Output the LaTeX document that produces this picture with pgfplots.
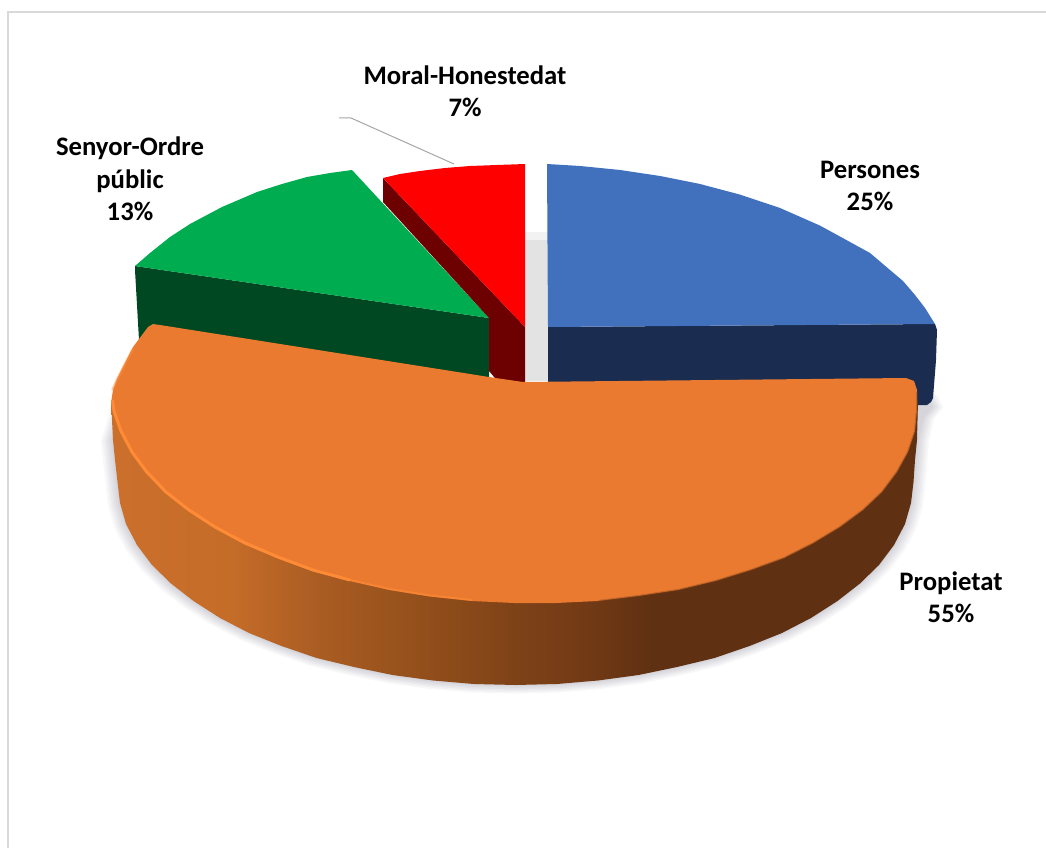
\documentclass[border=0pt]{standalone}
\usepackage{fontspec}
\setmainfont{Carlito}
\usepackage{pgfplots}
\pgfplotsset{compat=1.18}
\usepackage{pgfplotstable}
\definecolor{gridc}{HTML}{D9D9D9}
\definecolor{bluetop}{HTML}{4170BD}
\definecolor{blueside}{HTML}{1A2C50}
\definecolor{greentop}{HTML}{00AC50}
\definecolor{greenside}{HTML}{004821}
\definecolor{redtop}{HTML}{FF0000}
\definecolor{redside}{HTML}{6D0000}
\definecolor{orangetop}{HTML}{E97A30}
\definecolor{orangerim}{HTML}{FF8B36}
\definecolor{sA}{HTML}{CB702C}
\definecolor{sB}{HTML}{C56C29}
\definecolor{sC}{HTML}{A95C22}
\definecolor{sD}{HTML}{934F1B}
\definecolor{sE}{HTML}{7D4117}
\definecolor{sF}{HTML}{723A15}
\definecolor{sG}{HTML}{5F3012}
\pgfdeclarehorizontalshading{sidegrad}{100bp}{color(0bp)=(sA);color(25bp)=(sA);color(32.4bp)=(sB);color(38.1bp)=(sC);color(44.3bp)=(sD);color(50.5bp)=(sE);color(54.5bp)=(sF);color(58.6bp)=(sG);color(75bp)=(sG);color(100bp)=(sG)}
\pgfplotstableread{
x y
125 400
113 440
117.5 482
120 503
126 524
137 545
152 565
171 583.5
193.5 601
220 618
249 633
281.5 646
316.5 658
354 667
392.5 675
433 680.5
474 684
515.5 685
557 684
598 680.5
638.5 675
677 667
714.5 658
749.5 646
782 633
811 618
837.5 601
860 583.5
879 565
894 545
905 524
911 503
913.5 482
917 440
922 418
931 407
925 395
}\shadowtab
\begin{document}
\begin{tikzpicture}
\begin{axis}[
  scale only axis, width=1046pt, height=848pt,
  xmin=0, xmax=1046, ymin=0, ymax=848, y dir=reverse,
  axis lines=none, clip=true,
]
% background and frame
\addplot[fill=white, draw=none] coordinates {(0,0) (1046,0) (1046,848) (0,848)};
\addplot[gridc, line width=1.5pt] coordinates {(8,848) (8,12) (1046,12)};
% soft shadow
\pgfplotsinvokeforeach{1.03,1.025,1.02,1.015,1.01,1.005}{
  \addplot[fill=black!85!blue, fill opacity=0.026, draw=none]
    table[x expr={516+(\thisrow{x}-516)*#1}, y expr={395+(\thisrow{y}-395)*#1}] {\shadowtab};
}
% grey gap between red and blue
\addplot[fill=black!5, draw=none] coordinates {(525,232) (548,232) (548,240) (525,240)};
\addplot[fill=black!11, draw=none] coordinates {(525,240) (548,240) (548,381) (525,381)};
% Persones
\addplot[fill=blueside, draw=none] coordinates {
 (548,327)(935,324)(937,330)(936,360)(933,398)(931,402)(927,405)(880,405)(548,390)};
\addplot[fill=bluetop, draw=none] coordinates {
 (547,164)(580,166)(620,170)(660,176)(700,184)(740,194.6)(780,208)(820,225.6)(850,242)(870,253)(890,270)(903,281)(915,295)(925,308)(935,324)(548,327)};
% Senyor-Ordre public
\addplot[fill=greenside, draw=none] coordinates {
 (135,266)(489,318)(489,382)(150,340)(139,340)(135,270)};
\addplot[fill=greentop, draw=none] coordinates {
 (135,266)(150,253)(170,237)(190,224)(222,207)(257,192)(282,184)(307,177)(330,173)(352,170)(489,318)};
% Moral-Honestedat
\addplot[fill=redside, draw=none] coordinates {
 (383,178)(525,327)(525,384)(500,384)(489,371)(489,318)(383,202)};
\addplot[fill=redtop, draw=none] coordinates {
 (383,178)(400,174)(420,171)(445,168)(470,166)(497,165)(525,164)(525,327)};
% Propietat side
\addplot[shading=sidegrad, shading angle=0, draw=none] coordinates {
 (111,400)(113,440)(115,460)(117.5,482)(120,503)(126,524)(137,545)(152,565)(171,583.5)(193.5,601)(220,618)(249,633)(281.5,646)(316.5,658)(354,667)(392.5,675)(433,680.5)(474,684)(515.5,685)(557,684)(598,680.5)(638.5,675)(677,667)(714.5,658)(749.5,646)(782,633)(811,618)(837.5,601)(860,583.5)(879,565)(894,545)(905,524)(911,503)(913.5,482)(915,460)(917,440)(918,400)};
% Propietat top
\addplot[fill=orangetop, draw=none] coordinates {
 (160,325)(489,377)(523,382)(906,378)(914,381)(917,390)(917,410)(915,431)(908,452)(897,472)(882,492)(863,510)(840,527)(813.5,543)(784,558)(751,570)(715.5,581)(678,590)(638.5,596)(598,601)(556,603)(514,603)(472,601)(430,596.5)(389.5,590)(350,581)(312.5,571)(277,558)(244,544)(214.5,528)(188,511)(165,493)(146,473.5)(131,453)(120,432)(113,411)(111,403)(113,390)(117,379)(123,367)(133,347)(142,335)(148,327)(153,324)};
% edge highlight and dark blur
\addplot[orangerim, line width=2.5pt, opacity=0.5] coordinates {
 (112.5,390)(117.5,379)(123.5,367)(133,349)};
\addplot[orangerim, line width=3pt] coordinates {
 (112.5,400)(114,411)(121,431)(132,452)(147,472)(166,492)(189,510)(215,527)(245,543)(278,557)(313,570)(350,580)};
\addplot[orangerim, line width=2pt, opacity=0.6] coordinates {
 (350,580)(389.5,589)(430,595.5)(472,600)};
\addplot[black!50!orangetop, line width=2pt, opacity=0.35] coordinates {
 (917,392)(917,410)(915,431)(908,452)(897,472)(882,492)(863,510)(840,527)(813.5,543)(784,558)(751,570)(715.5,581)(678,590)(638.5,596)(598,601)};
% leader line
\addplot[black!35, line width=1pt] coordinates {(339,118)(351,118)(454,164)};
% labels
\node[align=center, font=\fontsize{26.7}{32.5}\selectfont\bfseries] at (axis cs:465,91) {Moral-Honestedat\\7\%};
\node[align=center, font=\fontsize{26.7}{32.5}\selectfont\bfseries] at (axis cs:130,179) {Senyor-Ordre\\públic\\13\%};
\node[align=center, font=\fontsize{26.7}{32.5}\selectfont\bfseries] at (axis cs:870,186) {Persones\\25\%};
\node[align=center, font=\fontsize{26.7}{32.5}\selectfont\bfseries] at (axis cs:951,597) {Propietat\\55\%};
\end{axis}
\end{tikzpicture}
\end{document}
